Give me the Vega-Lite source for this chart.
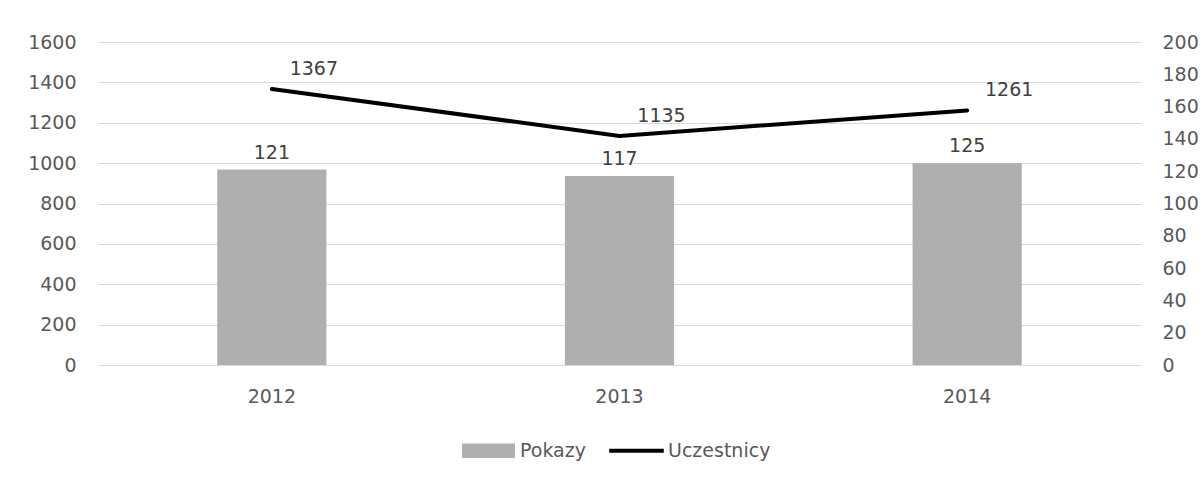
{
  "$schema": "https://vega.github.io/schema/vega-lite/v6.json",
  "width": 1043,
  "height": 323,
  "autosize": {"type": "none"},
  "padding": {"left": 98, "top": 42, "right": 62, "bottom": 116},
  "background": "white",
  "config": {
    "view": {"stroke": null},
    "font": "DejaVu Sans"
  },
  "data": {
    "values": [
      {"Rok": "2012", "Pokazy": 121, "Uczestnicy": 1367},
      {"Rok": "2013", "Pokazy": 117, "Uczestnicy": 1135},
      {"Rok": "2014", "Pokazy": 125, "Uczestnicy": 1261}
    ]
  },
  "encoding": {
    "x": {
      "field": "Rok",
      "type": "nominal",
      "scale": {"paddingInner": 0.686, "paddingOuter": 0.343},
      "axis": {
        "title": null,
        "labelAngle": 0,
        "domain": false,
        "ticks": false,
        "grid": false,
        "labelPadding": 22,
        "labelFont": "DejaVu Sans",
        "labelFontSize": 19,
        "labelColor": "#595959"
      }
    }
  },
  "layer": [
    {
      "encoding": {
        "y": {
          "field": "Pokazy",
          "type": "quantitative",
          "scale": {"domain": [0, 200], "nice": false},
          "axis": {
            "orient": "right",
            "title": null,
            "format": "d",
            "values": [0, 20, 40, 60, 80, 100, 120, 140, 160, 180, 200],
            "grid": false,
            "domain": false,
            "ticks": false,
            "labelPadding": 21,
            "labelFont": "DejaVu Sans",
            "labelFontSize": 19,
            "labelColor": "#595959"
          }
        }
      },
      "layer": [
        {
          "mark": {"type": "bar"},
          "encoding": {
            "color": {
              "datum": "Pokazy",
              "type": "nominal",
              "scale": {"domain": ["Pokazy", "Uczestnicy"], "range": ["#afafaf", "#000000"]},
              "legend": {
                "orient": "none",
                "legendX": 364,
                "legendY": 382,
                "direction": "horizontal",
                "title": null,
                "padding": 0,
                "labelFont": "DejaVu Sans",
                "labelFontSize": 19,
                "labelColor": "#595959",
                "labelOffset": 5,
                "columnPadding": 23,
                "symbolSize": 2809,
                "symbolType": "M-1,-0.27H1V0.27H-1Z",
                "encode": {
                  "symbols": {
                    "update": {
                      "shape": {"signal": "datum.value === 'Pokazy' ? 'M-1,-0.27H1V0.27H-1Z' : 'M-1.03,-0.075H1.03V0.075H-1.03Z'"},
                      "fill": {"signal": "datum.value === 'Pokazy' ? '#afafaf' : '#000000'"},
                      "stroke": {"value": "transparent"},
                      "strokeWidth": {"value": 0},
                      "opacity": {"value": 1}
                    }
                  }
                }
              }
            }
          }
        },
        {
          "mark": {"type": "text", "dy": -17, "baseline": "middle", "align": "center", "font": "DejaVu Sans", "fontSize": 19, "color": "#404040"},
          "encoding": {"text": {"field": "Pokazy", "type": "quantitative"}}
        }
      ]
    },
    {
      "encoding": {
        "y": {
          "field": "Uczestnicy",
          "type": "quantitative",
          "scale": {"domain": [0, 1600], "nice": false},
          "axis": {
            "orient": "left",
            "title": null,
            "format": "d",
            "values": [0, 200, 400, 600, 800, 1000, 1200, 1400, 1600],
            "grid": true,
            "gridColor": "#d9d9d9",
            "gridWidth": 1,
            "domain": false,
            "ticks": false,
            "labelPadding": 22,
            "labelFont": "DejaVu Sans",
            "labelFontSize": 19,
            "labelColor": "#595959"
          }
        }
      },
      "layer": [
        {
          "mark": {"type": "line", "strokeWidth": 4, "strokeCap": "round"},
          "encoding": {
            "color": {"datum": "Uczestnicy", "type": "nominal"}
          }
        },
        {
          "mark": {"type": "text", "dx": 42, "dy": -20, "baseline": "middle", "align": "center", "font": "DejaVu Sans", "fontSize": 19, "color": "#404040"},
          "encoding": {"text": {"field": "Uczestnicy", "type": "quantitative"}}
        }
      ]
    }
  ],
  "resolve": {"scale": {"y": "independent"}}
}
